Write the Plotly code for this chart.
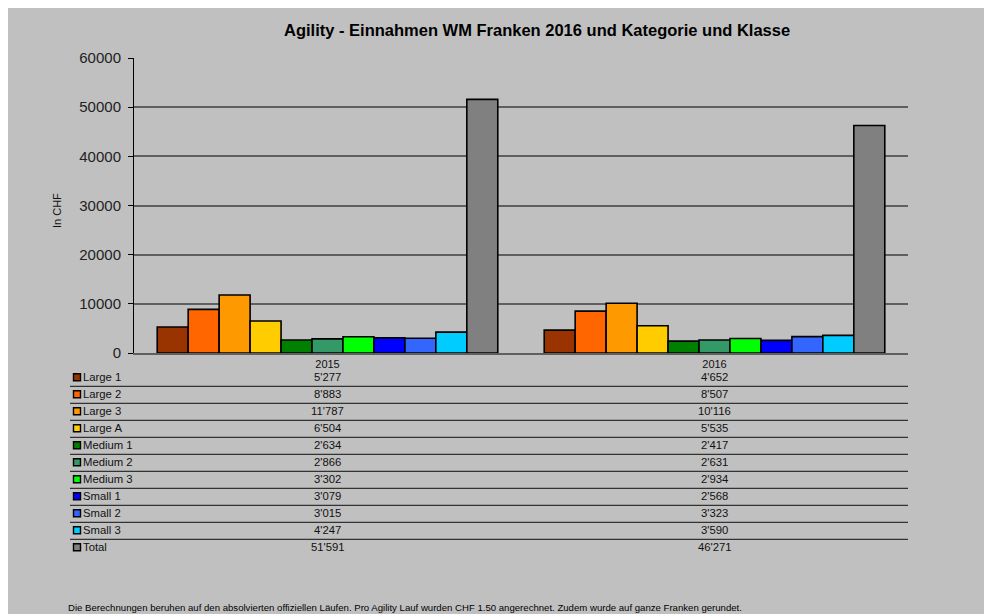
import plotly.graph_objects as go

# ---- data ----
years = ["2015", "2016"]
categories = ["Large 1", "Large 2", "Large 3", "Large A", "Medium 1", "Medium 2",
              "Medium 3", "Small 1", "Small 2", "Small 3", "Total"]
values_2015 = [5277, 8883, 11787, 6504, 2634, 2866, 3302, 3079, 3015, 4247, 51591]
values_2016 = [4652, 8507, 10116, 5535, 2417, 2631, 2934, 2568, 3323, 3590, 46271]
colors = ["#993300", "#FF6600", "#FF9900", "#FFCC00", "#008000", "#339966",
          "#00FF00", "#0000FF", "#3366FF", "#00CCFF", "#808080"]
y_ticks = [0, 10000, 20000, 30000, 40000, 50000, 60000]

title_text = "Agility - Einnahmen WM Franken 2016 und Kategorie und Klasse"
y_title = "In CHF"
footnote = ("Die Berechnungen beruhen auf den absolvierten offiziellen Läufen. "
            "Pro Agility Lauf wurden CHF 1.50 angerechnet. Zudem wurde auf ganze Franken gerundet.")

# ---- layout geometry (page pixels; the page body adds an 8px offset) ----
OFF = 8
W, H = 992 - OFF, 614 - OFF
L, R, T, B = 134, 908, 58, 353   # plot area in page pixels
PW, PH = R - L, B - T
FONT = "Arial, Liberation Sans, sans-serif"


def px_x(px):
    return (px - L) / PW


def px_y(py):
    return (B - py) / PH


def fmt(v):
    return f"{v:,}".replace(",", "'")


fig = go.Figure()
for i, cat in enumerate(categories):
    fig.add_trace(go.Bar(
        name=cat, x=years, y=[values_2015[i], values_2016[i]],
        marker=dict(color=colors[i], line=dict(color="black", width=1.6)),
        showlegend=False,
    ))

shapes = []
annotations = []

# data table
row0, pitch = 377.3, 17.0
for i, cat in enumerate(categories):
    cy = row0 + pitch * i
    shapes.append(dict(type="rect", xref="paper", yref="paper",
                       x0=px_x(73.5), x1=px_x(80.5), y0=px_y(cy + 3.5), y1=px_y(cy - 3.5),
                       fillcolor=colors[i], line=dict(color="black", width=1.4)))
    annotations.append(dict(xref="paper", yref="paper", x=px_x(80.5), y=px_y(cy),
                            xanchor="left", yanchor="middle", showarrow=False,
                            text=cat, font=dict(family=FONT, size=11.3, color="#111111")))
    for j, vals in enumerate([values_2015, values_2016]):
        annotations.append(dict(xref="x", yref="paper", x=j, y=px_y(cy),
                                xanchor="center", yanchor="middle", showarrow=False,
                                text=fmt(vals[i]),
                                font=dict(family=FONT, size=11.3, color="#111111")))
    if i < len(categories) - 1:
        ly = cy + 9.0
        shapes.append(dict(type="line", xref="paper", yref="paper",
                           x0=px_x(70), x1=1, y0=px_y(ly), y1=px_y(ly),
                           line=dict(color="#333333", width=1.3)))

# title
annotations.append(dict(xref="paper", yref="paper", x=px_x(537), y=px_y(30),
                        xanchor="center", yanchor="middle", showarrow=False,
                        text="<b>" + title_text + "</b>",
                        font=dict(family=FONT, size=16.5, color="black")))
# y title
annotations.append(dict(xref="paper", yref="paper", x=px_x(57), y=px_y(211),
                        xanchor="center", yanchor="middle", showarrow=False,
                        text=y_title, textangle=-90,
                        font=dict(family=FONT, size=11, color="#111111")))
# footnote
annotations.append(dict(xref="paper", yref="paper", x=px_x(66), y=px_y(607),
                        xanchor="left", yanchor="middle", showarrow=False,
                        text=footnote, font=dict(family=FONT, size=9.6, color="black")))

fig.update_layout(
    width=W, height=H,
    margin=dict(l=L - OFF, r=992 - R, t=T - OFF, b=614 - B, pad=0),
    paper_bgcolor="#C0C0C0", plot_bgcolor="#C0C0C0",
    barmode="group", bargap=0.12, bargroupgap=0,
    shapes=shapes, annotations=annotations,
    font=dict(family=FONT),
)
fig.update_xaxes(
    type="category", range=[-0.5, 1.5], autorange=False,
    showgrid=False, showline=True, linecolor="#5f5f5f", linewidth=1.5,
    ticks="", tickfont=dict(family=FONT, size=11, color="#111111"),
    ticklabelstandoff=0,
)
fig.update_yaxes(
    range=[0, 60000], tickvals=y_ticks, ticktext=[str(v) for v in y_ticks],
    showgrid=True, gridcolor="#5f5f5f", gridwidth=1.5,
    showline=True, linecolor="black", linewidth=1,
    ticks="outside", ticklen=5, tickcolor="black", ticklabelstandoff=4,
    tickfont=dict(family=FONT, size=15, color="#222222"),
    zeroline=False,
)

fig.write_html("out.html")
